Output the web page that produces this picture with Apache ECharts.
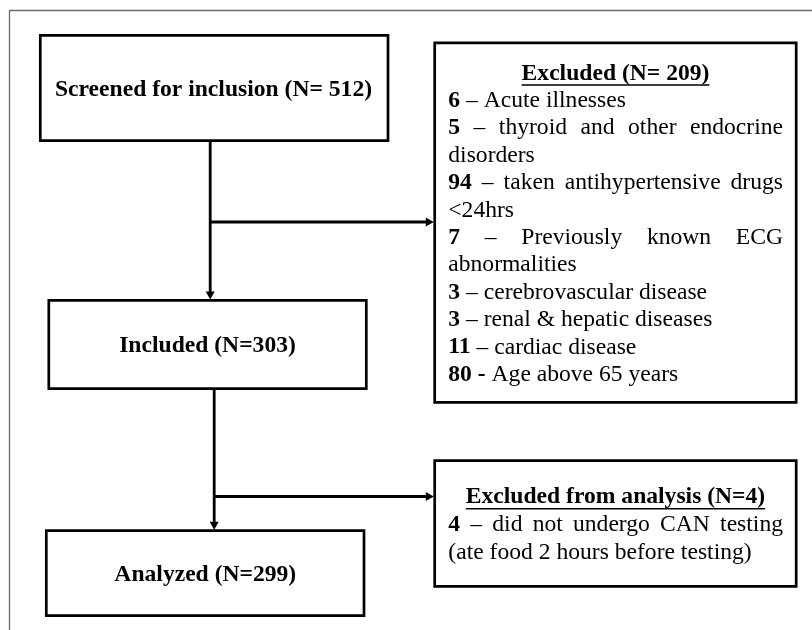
<!DOCTYPE html>
<html lang="en">
<head>
  <meta charset="UTF-8" />
  <title>Flow</title>
  <script src="https://cdn.jsdelivr.net/npm/echarts@6/dist/echarts.min.js"></script>
  <style>
    body,
    html {
      margin: 0;
      padding: 0;
      width: 100%;
      height: 100%;
      overflow: hidden;
      background: #fff;
    }

    #chart {
      width: 812px;
      height: 630px;
    }
  </style>
</head>
<body>
  <div id="chart"></div>
<script>
  // flow counts
  var screenedN = 512;
  var includedN = 303;
  var analyzedN = 299;

  // excluded before inclusion
  var excludedN = 209;
  var excludedCounts = [6, 5, 94, 7, 3, 3, 11, 80];
  var excludedSeps = ['–', '–', '–', '–', '–', '–', '–', '-'];
  var excludedReasons = [
    'Acute illnesses',
    'thyroid and other endocrine disorders',
    'taken antihypertensive drugs <24hrs',
    'Previously known ECG abnormalities',
    'cerebrovascular disease',
    'renal & hepatic diseases',
    'cardiac disease',
    'Age above 65 years'
  ];

  // excluded from analysis
  var droppedN = 4;
  var droppedCounts = [4];
  var droppedSeps = ['–'];
  var droppedReasons = ['did not undergo CAN testing (ate food 2 hours before testing)'];

  var FAMILY = '"Liberation Serif", "Times New Roman", serif';
  var SIZE = 23.6;
  var ctx = document.createElement('canvas').getContext('2d');

  function fontOf(bold) {
    return (bold ? 'bold ' : '') + SIZE + 'px ' + FAMILY;
  }

  function measure(t, bold) {
    ctx.font = fontOf(bold);
    return ctx.measureText(t).width;
  }

  function textEl(t, x, y, bold, align) {
    return {
      type: 'text',
      x: x,
      y: y,
      style: {
        text: t,
        font: fontOf(bold),
        fill: '#000',
        textAlign: align || 'left',
        align: align || 'left',
        textVerticalAlign: 'middle',
        verticalAlign: 'middle'
      }
    };
  }

  function box(els, x, y, w, h) {
    els.push({
      type: 'rect',
      shape: { x: x, y: y, width: w, height: h },
      style: { fill: 'none', stroke: '#000', lineWidth: 2.7 }
    });
  }

  function seg(els, x1, y1, x2, y2) {
    els.push({
      type: 'line',
      shape: { x1: x1, y1: y1, x2: x2, y2: y2 },
      style: { stroke: '#000', lineWidth: 2.8 }
    });
  }

  function arrowDown(els, x, y1, y2) {
    seg(els, x, y1, x, y2 - 7);
    els.push({
      type: 'polygon',
      shape: { points: [[x - 4.5, y2 - 8], [x + 4.5, y2 - 8], [x, y2]] },
      style: { fill: '#000' }
    });
  }

  function arrowRight(els, x1, x2, y) {
    seg(els, x1, y, x2 - 7, y);
    els.push({
      type: 'polygon',
      shape: { points: [[x2 - 8, y - 4.4], [x2 - 8, y + 4.4], [x2, y]] },
      style: { fill: '#000' }
    });
  }

  function title(els, t, cx, y, underlineY) {
    els.push(textEl(t, cx, y, true, 'center'));
    var w = measure(t, true);
    els.push({
      type: 'line',
      shape: { x1: cx - w / 2, y1: underlineY, x2: cx + w / 2, y2: underlineY },
      style: { stroke: '#000', lineWidth: 1.6 }
    });
  }

  // justified paragraph, last line left aligned; returns line count
  function paragraph(els, count, sep, reason, left, width, y0, step) {
    var tokens = [{ t: String(count), b: true }, { t: sep, b: sep === '-' }];
    reason.split(' ').forEach(function (w) {
      tokens.push({ t: w, b: false });
    });
    tokens.forEach(function (k) {
      k.w = measure(k.t, k.b);
    });
    var space = measure(' ', false);
    var lines = [], cur = [], curW = 0;
    tokens.forEach(function (k) {
      var next = cur.length ? curW + space + k.w : k.w;
      if (cur.length && next > width + 0.5) {
        lines.push(cur);
        cur = [k];
        curW = k.w;
      } else {
        cur.push(k);
        curW = next;
      }
    });
    lines.push(cur);
    lines.forEach(function (line, li) {
      var gap = space;
      if (li < lines.length - 1 && line.length > 1) {
        var sum = line.reduce(function (s, k) { return s + k.w; }, 0);
        gap = (width - sum) / (line.length - 1);
      }
      var x = left;
      line.forEach(function (k) {
        els.push(textEl(k.t, x, y0 + li * step, k.b));
        x += k.w + gap;
      });
    });
    return lines.length;
  }

  var els = [];

  // outer frame
  els.push({
    type: 'rect',
    shape: { x: 9.5, y: 10.5, width: 840, height: 660 },
    style: { fill: 'none', stroke: '#6a6a6a', lineWidth: 1.3 }
  });

  // left column
  box(els, 40.3, 35.3, 347.7, 105.4);
  els.push(textEl('Screened for inclusion (N= ' + screenedN + ')', 213.5, 89.7, true, 'center'));

  box(els, 48.8, 300.3, 317.5, 88.4);
  els.push(textEl('Included (N=' + includedN + ')', 207.5, 345.7, true, 'center'));

  box(els, 46.3, 530.7, 317.7, 85);
  els.push(textEl('Analyzed (N=' + analyzedN + ')', 205.3, 574.7, true, 'center'));

  // connectors
  arrowDown(els, 210.2, 141.5, 299.5);
  arrowRight(els, 210.2, 433.8, 222);
  arrowDown(els, 214.2, 389.5, 529.8);
  arrowRight(els, 214.2, 433.8, 496.5);

  // right column
  var textLeft = 448.3, textWidth = 334.7;

  box(els, 434.7, 42.8, 361.5, 359.5);
  title(els, 'Excluded (N= ' + excludedN + ')', 615.5, 73.5, 85);
  var row = 0;
  excludedCounts.forEach(function (c, i) {
    row += paragraph(els, c, excludedSeps[i], excludedReasons[i], textLeft, textWidth, 100.8 + row * 27.4, 27.4);
  });

  box(els, 434.7, 460.7, 361.5, 125.6);
  title(els, 'Excluded from analysis (N=' + droppedN + ')', 615.5, 496.7, 508.7);
  row = 0;
  droppedCounts.forEach(function (c, i) {
    row += paragraph(els, c, droppedSeps[i], droppedReasons[i], textLeft, textWidth, 524.8 + row * 28, 28);
  });

  var chart = echarts.init(document.getElementById('chart'));
  chart.setOption({
    animation: false,
    backgroundColor: '#fff',
    graphic: { elements: els }
  });
</script>
</body>
</html>
